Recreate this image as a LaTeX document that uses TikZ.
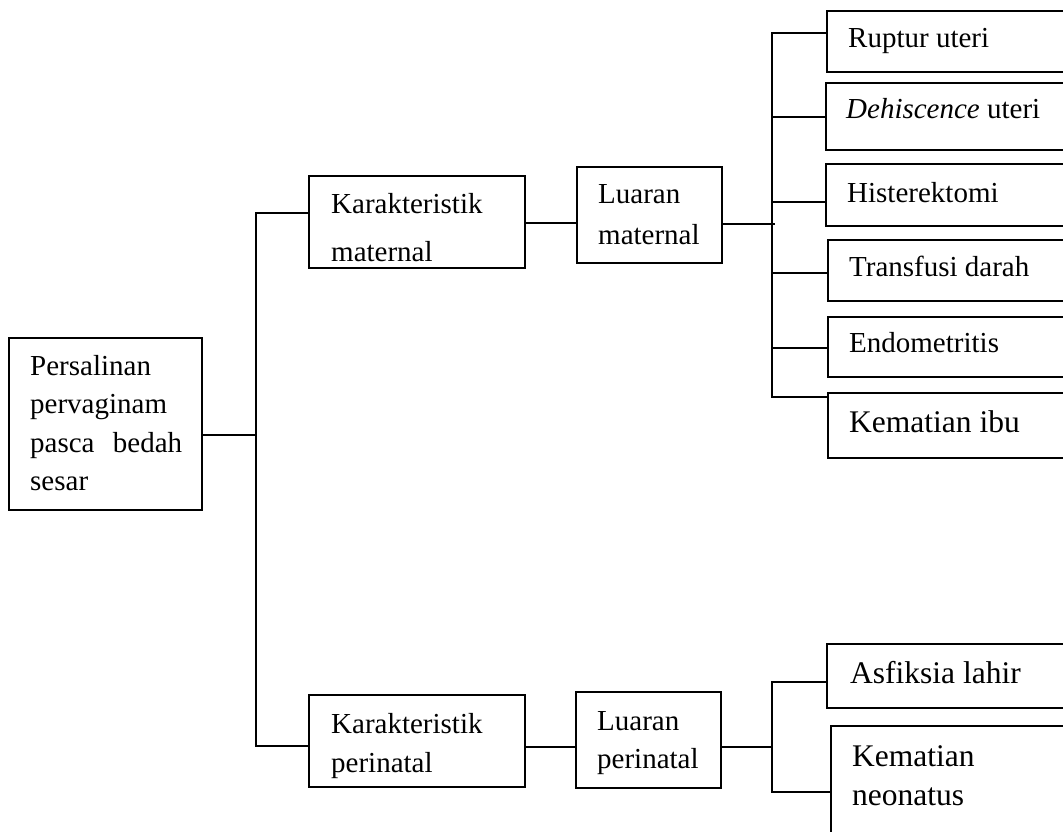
\documentclass[tikz,border=0pt]{standalone}
\usepackage{fontspec}
\setmainfont{Liberation Serif}
\begin{document}
\begin{tikzpicture}[x=1pt,y=-1pt,
  box/.style={draw, rectangle, inner sep=0pt, line width=1.6pt},
  conn/.style={draw, line width=1.6pt},
  txt/.style={anchor=base west, inner sep=0pt, font=\fontsize{29}{29}\selectfont},
  bigtxt/.style={anchor=base west, inner sep=0pt, font=\fontsize{31.5}{31.5}\selectfont}]
\useasboundingbox (0,0) rectangle (1063,832);
\clip (0,0) rectangle (1063,832);
% boxes
\node[box, minimum width=193, minimum height=172] (P) at (105.5,424) {};
\node[box, minimum width=216, minimum height=92] (KM) at (417,222) {};
\node[box, minimum width=216, minimum height=92] (KP) at (417,741) {};
\node[box, minimum width=145, minimum height=96] (LM) at (649.5,215) {};
\node[box, minimum width=145, minimum height=96] (LP) at (648.5,740) {};
\node[box, minimum width=253, minimum height=61] (R1) at (953.5,41.5) {};
\node[box, minimum width=254, minimum height=67] (R2) at (953,116.5) {};
\node[box, minimum width=254, minimum height=62] (R3) at (953,195) {};
\node[box, minimum width=252, minimum height=61] (R4) at (954,270.5) {};
\node[box, minimum width=252, minimum height=60] (R5) at (954,347) {};
\node[box, minimum width=252, minimum height=65] (R6) at (954,425.5) {};
\node[box, minimum width=253, minimum height=64] (A1) at (953.5,676) {};
\node[box, minimum width=249, minimum height=124] (A2) at (955.5,788) {};
% texts
\node[txt] (tP1) at (30,375) {Persalinan};
\node[txt] (tP2) at (30,413) {pervaginam};
\node[txt] (tP3) at (30,452) {\hbox to 152pt{pasca\hfil bedah}};
\node[txt] (tP4) at (30,490) {sesar};
\node[txt] (tKM1) at (331,213) {Karakteristik};
\node[txt] (tKM2) at (331,261) {maternal};
\node[txt] (tKP1) at (331,733) {Karakteristik};
\node[txt] (tKP2) at (331,772) {perinatal};
\node[txt] (tLM1) at (598,204) {Luaran};
\node[txt] (tLM2) at (598,244) {maternal};
\node[txt] (tLP1) at (597,730) {Luaran};
\node[txt] (tLP2) at (597,768) {perinatal};
\node[txt] (tR1) at (848,48) {Ruptur uteri};
\node[txt] (tR2) at (846,119) {\textit{Dehiscence} uteri};
\node[txt] (tR3) at (847,202) {Histerektomi};
\node[txt] (tR4) at (849,276) {Transfusi darah};
\node[txt] (tR5) at (849,352) {Endometritis};
\node[bigtxt] (tR6) at (849,432) {Kematian ibu};
\node[bigtxt] (tA1) at (850,683) {Asfiksia lahir};
\node[bigtxt] (tA21) at (852,766) {Kematian};
\node[bigtxt] (tA22) at (852,805) {neonatus};
% connector coordinates
\coordinate (s0) at (256,213);
\coordinate (s1) at (256,746);
\coordinate (sp) at (256,435);
\coordinate (kmj) at (0,223);
\coordinate (mj) at (775,224);
\coordinate (m1) at (772,33);
\coordinate (m2) at (772,117);
\coordinate (m3) at (772,202);
\coordinate (m4) at (772,273);
\coordinate (m5) at (772,348);
\coordinate (m6) at (772,397);
\coordinate (kpj) at (0,747);
\coordinate (pj) at (772,747);
\coordinate (p1) at (772,682);
\coordinate (p2) at (772,792);
% connectors
\draw[conn] (P.east |- sp) -- (sp);
\draw[conn] (KM.west |- s0) -- (s0) -- (s1) -- (KP.west |- s1);
\draw[conn] (KM.east |- kmj) -- (LM.west |- kmj);
\draw[conn] (LM.east |- mj) -- (mj);
\draw[conn] (R1.west |- m1) -- (m1) -- (m6) -- (R6.west |- m6);
\draw[conn] (m2) -- (R2.west |- m2);
\draw[conn] (m3) -- (R3.west |- m3);
\draw[conn] (m4) -- (R4.west |- m4);
\draw[conn] (m5) -- (R5.west |- m5);
\draw[conn] (KP.east |- kpj) -- (LP.west |- kpj);
\draw[conn] (LP.east |- pj) -- (pj);
\draw[conn] (A1.west |- p1) -- (p1) -- (p2) -- (A2.west |- p2);
\end{tikzpicture}
\end{document}
